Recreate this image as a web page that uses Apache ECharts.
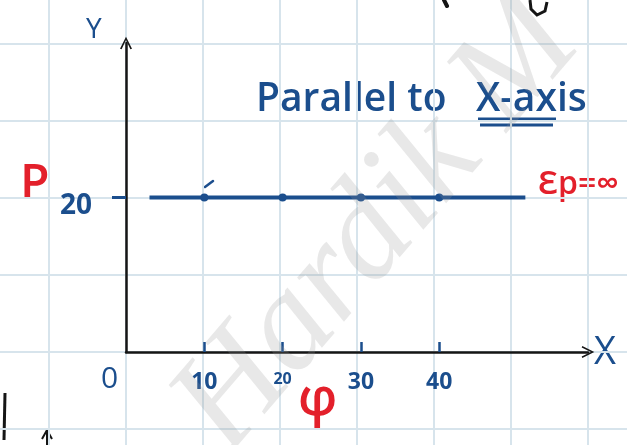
<!DOCTYPE html>
<html>
<head>
<meta charset="utf-8">
<script src="https://cdn.jsdelivr.net/npm/echarts@6/dist/echarts.min.js"></script>
<style>
  html, body { margin: 0; padding: 0; background: #ffffff; }
  #chart { width: 627px; height: 445px; }
</style>
</head>
<body>
<div id="chart"></div>
<script>
// Price on the Y axis, quantity on the X axis: a horizontal (perfectly elastic) supply line
const quantity = [3, 10, 20, 30, 40, 51];
const price = [20, 20, 20, 20, 20, 20];
const markedQuantity = [10, 20, 30, 40];
const xTickLabels = [10, 20, 30, 40];
const yTickLabels = [20];

const BLUE = '#1b4e8d';
const RED = '#e3202b';
const INK = '#151515';
const FONT = '"Open Sans", "Noto Sans", sans-serif';

// open chevron used as an arrow head at the ends of both axes
const arrowHead = 'path://M0,12 L6,0 L12,12 L10.4,12.6 L6,3.4 L1.6,12.6 Z';

const lineData = quantity.map((q, i) => ({
  value: [q, price[i]],
  symbol: markedQuantity.includes(q) ? 'circle' : 'none'
}));

const chart = echarts.init(document.getElementById('chart'), null, { renderer: 'canvas' });

chart.setOption({
  backgroundColor: '#ffffff',
  animation: false,
  grid: [
    // squared paper behind everything (extends past the page edges)
    { left: -28, right: -38, top: -33, bottom: -61, outerBoundsMode: 'none', containLabel: false },
    // the plotted axes
    { left: 126, right: 39, top: 43, bottom: 93, outerBoundsMode: 'none', containLabel: false }
  ],
  xAxis: [
    {
      gridIndex: 0, type: 'value', min: -20, max: 70, interval: 10,
      axisLine: { show: false }, axisTick: { show: false }, axisLabel: { show: false },
      splitLine: { show: true, lineStyle: { color: '#d7e4ec', width: 2 } }
    },
    {
      gridIndex: 1, type: 'value', min: 0, max: 59,
      axisLine: {
        show: true, onZero: false, symbol: ['none', arrowHead], symbolSize: [12, 14],
        lineStyle: { color: INK, width: 2.5 }
      },
      axisTick: {
        show: true, inside: true, length: 10, customValues: xTickLabels,
        lineStyle: { color: BLUE, width: 2.5 }
      },
      axisLabel: {
        show: true, customValues: xTickLabels, margin: 19,
        formatter: v => v === 20 ? '{s|' + v + '}' : '{n|' + v + '}',
        rich: {
          n: { fontSize: 23, color: BLUE, fontFamily: FONT, fontWeight: 700 },
          s: { fontSize: 16, color: BLUE, fontFamily: FONT, fontWeight: 700, padding: [0, 0, 12, 0] }
        }
      },
      splitLine: { show: false }
    }
  ],
  yAxis: [
    {
      gridIndex: 0, type: 'value', min: -20, max: 50, interval: 10,
      axisLine: { show: false }, axisTick: { show: false }, axisLabel: { show: false },
      splitLine: { show: true, lineStyle: { color: '#d7e4ec', width: 2 } }
    },
    {
      gridIndex: 1, type: 'value', min: 0, max: 40,
      axisLine: {
        show: true, onZero: false, symbol: ['none', arrowHead], symbolSize: [12, 14],
        lineStyle: { color: INK, width: 2.5 }
      },
      axisTick: {
        show: true, length: 14, customValues: yTickLabels,
        lineStyle: { color: BLUE, width: 3 }
      },
      axisLabel: {
        show: true, customValues: yTickLabels, margin: 34,
        formatter: v => '{b|' + v + '}',
        rich: { b: { fontSize: 28, color: BLUE, fontFamily: FONT, fontWeight: 700, padding: [18, 0, 0, 0] } }
      },
      splitLine: { show: false }
    }
  ],
  series: [
    {
      type: 'line', xAxisIndex: 1, yAxisIndex: 1,
      data: lineData,
      symbolSize: 8,
      lineStyle: { color: BLUE, width: 4 },
      itemStyle: { color: BLUE },
      z: 5
    }
  ],
  graphic: [
    // watermark running diagonally across the page
    {
      type: 'text', x: 378, y: 226, rotation: 0.86, z: 100, silent: true,
      style: {
        text: 'Hardik M', fill: 'rgba(150,150,150,0.22)',
        font: 'italic 140px "Liberation Serif", serif', align: 'center', verticalAlign: 'middle'
      }
    },
    { type: 'text', x: 86, y: 16, style: { text: 'Y', fill: BLUE, font: '28px ' + FONT } },
    { type: 'text', x: 594, y: 334, style: { text: 'X', fill: BLUE, font: '38px ' + FONT } },
    { type: 'text', x: 101, y: 364, style: { text: '0', fill: BLUE, font: '30px ' + FONT } },
    { type: 'text', x: 20, y: 161, style: { text: 'P', fill: RED, font: '600 48px ' + FONT } },
    { type: 'text', x: 298, y: 374, style: { text: 'φ', fill: RED, font: '600 52px ' + FONT } },
    { type: 'text', x: 538, y: 169, style: { text: 'Ɛp=∞', fill: RED, font: '600 32px ' + FONT } },
    { type: 'text', x: 256, y: 80, style: { text: 'Parallel to', fill: BLUE, font: '600 39px ' + FONT } },
    { type: 'text', x: 476, y: 80, style: { text: 'X-axis', fill: BLUE, font: '600 39px ' + FONT } },
    // double underline beneath "X-axis"
    { type: 'line', shape: { x1: 478, y1: 119, x2: 556, y2: 119 }, style: { stroke: BLUE, lineWidth: 3 } },
    { type: 'line', shape: { x1: 480, y1: 125, x2: 553, y2: 125 }, style: { stroke: BLUE, lineWidth: 3 } },
    // stray pen marks on the page
    { type: 'line', shape: { x1: 205, y1: 187, x2: 213, y2: 181 }, style: { stroke: BLUE, lineWidth: 2.5, lineCap: 'round' } },
    { type: 'line', shape: { x1: 5, y1: 393, x2: 4, y2: 440 }, style: { stroke: INK, lineWidth: 3 } },
    { type: 'polyline', shape: { points: [[42, 439], [47, 430], [52, 439]] }, style: { stroke: INK, lineWidth: 2, fill: null } },
    { type: 'line', shape: { x1: 47, y1: 431, x2: 47, y2: 445 }, style: { stroke: INK, lineWidth: 2 } },
    { type: 'polyline', shape: { points: [[530, 0], [531, 9], [537, 15], [545, 11], [547, 2]] }, style: { stroke: INK, lineWidth: 3, fill: null } },
    { type: 'line', shape: { x1: 444, y1: 0, x2: 447, y2: 6 }, style: { stroke: INK, lineWidth: 4, lineCap: 'round' } }
  ]
});
</script>
</body>
</html>
